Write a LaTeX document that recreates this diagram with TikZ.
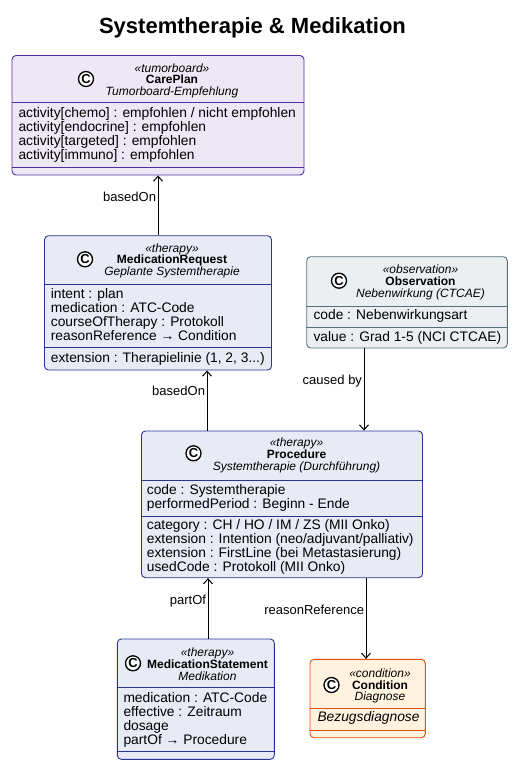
\documentclass[tikz,border=0pt]{standalone}
\usepackage{fontspec}
\setmainfont{Liberation Sans}
\usetikzlibrary{arrows.meta}

\definecolor{tbfill}{HTML}{EDE7F6}
\definecolor{tbline}{HTML}{512DA8}
\definecolor{thfill}{HTML}{E8EAF6}
\definecolor{thline}{HTML}{283593}
\definecolor{obfill}{HTML}{ECEFF1}
\definecolor{obline}{HTML}{546E7A}
\definecolor{cofill}{HTML}{FFF3E0}
\definecolor{coline}{HTML}{E65100}

\tikzset{
  box/.style={draw,rounded corners=4pt,line width=0.9pt,inner sep=0pt},
  sep/.style={line width=0.9pt},
  head/.style={align=center,inner sep=0pt,anchor=north,font=\fontsize{12}{11.7}\selectfont},
  attr/.style={align=left,inner sep=0pt,anchor=north west,font=\fontsize{13.8}{14}\selectfont},
  spot/.style={circle,draw,fill=white,line width=1.3pt,inner sep=0pt,minimum size=15pt,
    font=\fontsize{13}{13}\bfseries\selectfont},
  assoc/.style={draw,line width=1pt,-{Straight Barb[length=5pt,width=9pt]}},
  lbl/.style={font=\fontsize{13}{13}\selectfont,inner sep=1.5pt,anchor=east}
}

\begin{document}
\begin{tikzpicture}[x=1pt,y=-1pt]

        \useasboundingbox (0,0) rectangle (513,765);

        \node[font=\fontsize{22}{26}\bfseries\selectfont,anchor=base] (title) at (252.5,33.3) {Systemtherapie \& Medikation};

        \begin{scope}[every node/.style={box}]
          \node[fill=tbfill,draw=tbline,minimum width=292pt,minimum height=119.5pt]   (careplan) at (158,115.25) {};
          \node[fill=thfill,draw=thline,minimum width=227pt,minimum height=134.3pt]   (medreq)   at (158,302.85) {};
          \node[fill=obfill,draw=obline,minimum width=200.6pt,minimum height=91.3pt]  (obs)      at (407,302.35) {};
          \node[fill=thfill,draw=thline,minimum width=281pt,minimum height=146.7pt]   (proc)     at (282,504.35) {};
          \node[fill=thfill,draw=thline,minimum width=157pt,minimum height=120.3pt]   (medstmt)  at (195.8,699.15) {};
          \node[fill=cofill,draw=coline,minimum width=115.3pt,minimum height=78.4pt]  (cond)     at (367.65,698.5) {};
        \end{scope}

        % compartments
        \draw[sep,tbline] (careplan.west |- 0,102.7) -- (careplan.east |- 0,102.7);
        \draw[sep,tbline] (careplan.west |- 0,167)   -- (careplan.east |- 0,167);
        \draw[sep,thline] (medreq.west |- 0,284.3)   -- (medreq.east |- 0,284.3);
        \draw[sep,thline] (medreq.west |- 0,347.7)   -- (medreq.east |- 0,347.7);
        \draw[sep,obline] (obs.west |- 0,306)        -- (obs.east |- 0,306);
        \draw[sep,obline] (obs.west |- 0,327.3)      -- (obs.east |- 0,327.3);
        \draw[sep,thline] (proc.west |- 0,480)       -- (proc.east |- 0,480);
        \draw[sep,thline] (proc.west |- 0,516.7)     -- (proc.east |- 0,516.7);
        \draw[sep,thline] (medstmt.west |- 0,687.7)  -- (medstmt.east |- 0,687.7);
        \draw[sep,thline] (medstmt.west |- 0,751.7)  -- (medstmt.east |- 0,751.7);
        \draw[sep,coline] (cond.west |- 0,708.3)     -- (cond.east |- 0,708.3);
        \draw[sep,coline] (cond.west |- 0,730)       -- (cond.east |- 0,730);

        \begin{scope}[every node/.style={spot}]
          \node (careplan-c) at (86,79)       {C};
          \node (medreq-c)   at (85,259.3)    {C};
          \node (obs-c)      at (339,280.7)   {C};
          \node (proc-c)     at (193.5,453.3) {C};
          \node (medstmt-c)  at (133,663.3)   {C};
          \node (cond-c)     at (331.5,685)   {C};
        \end{scope}

        \begin{scope}[every node/.style={head}]
          \node (careplan-h) at (172,63.4)    {\textit{«tumorboard»}\\\textbf{CarePlan}\\\textit{Tumorboard-Empfehlung}};
          \node (medreq-h)   at (172,243.4)   {\textit{«therapy»}\\\textbf{MedicationRequest}\\\textit{Geplante Systemtherapie}};
          \node (obs-h)      at (420.5,264.9) {\textit{«observation»}\\\textbf{Observation}\\\textit{Nebenwirkung (CTCAE)}};
          \node (proc-h)     at (296.5,437.9) {\textit{«therapy»}\\\textbf{Procedure}\\\textit{Systemtherapie (Durchführung)}};
          \node (medstmt-h)  at (207.5,647.9) {\textit{«therapy»}\\\textbf{MedicationStatement}\\\textit{Medikation}};
          \node (cond-h)     at (380,668.4)   {\textit{«condition»}\\\textbf{Condition}\\\textit{Diagnose}};
        \end{scope}

        \begin{scope}[every node/.style={attr}]
          \node (careplan-a) at (18.3,106.9) {activity[chemo] : empfohlen / nicht empfohlen\\activity[endocrine] : empfohlen\\activity[targeted] : empfohlen\\activity[immuno] : empfohlen};
          \node (medreq-a)   at (50.7,287.9) {intent : plan\\medication : ATC-Code\\courseOfTherapy : Protokoll\\reasonReference → Condition};
          \node (medreq-e)   at (50.7,351.9) {extension : Therapielinie (1, 2, 3...)};
          \node (obs-a)      at (313.3,308.9) {code : Nebenwirkungsart};
          \node (obs-v)      at (313.3,330.9) {value : Grad 1-5 (NCI CTCAE)};
          \node (proc-a)     at (146.7,483.9) {code : Systemtherapie\\performedPeriod : Beginn - Ende};
          \node (proc-e)     at (146.7,519.4) {category : CH / HO / IM / ZS (MII Onko)\\extension : Intention (neo/adjuvant/palliativ)\\extension : FirstLine (bei Metastasierung)\\usedCode : Protokoll (MII Onko)};
          \node (medstmt-a)  at (123.3,691.9) {medication : ATC-Code\\effective : Zeitraum\\dosage\\partOf → Procedure};
          \node (cond-a)     at (317.3,710.9) {\textit{Bezugsdiagnose}};
        \end{scope}

        \begin{scope}[every node/.style={lbl}]
          \path (medreq.north) edge[assoc] node[pos=0.64] (based-top) {basedOn} (careplan.south);
          \path ([xshift=-75pt]proc.north) edge[assoc] node[pos=0.656] (based-low) {basedOn} ([xshift=49pt]medreq.south);
          \path ([xshift=-43pt]obs.south) edge[assoc] node[pos=0.4] (caused) {caused by} ([xshift=82pt]proc.north);
          \path ([xshift=12.2pt]medstmt.north) edge[assoc] node[pos=0.62] (partof) {partOf} ([xshift=-74pt]proc.south);
          \path ([xshift=84pt]proc.south) edge[assoc] node[pos=0.39] (reason) {reasonReference} ([xshift=-1.65pt]cond.north);
        \end{scope}

\end{tikzpicture}
\end{document}
